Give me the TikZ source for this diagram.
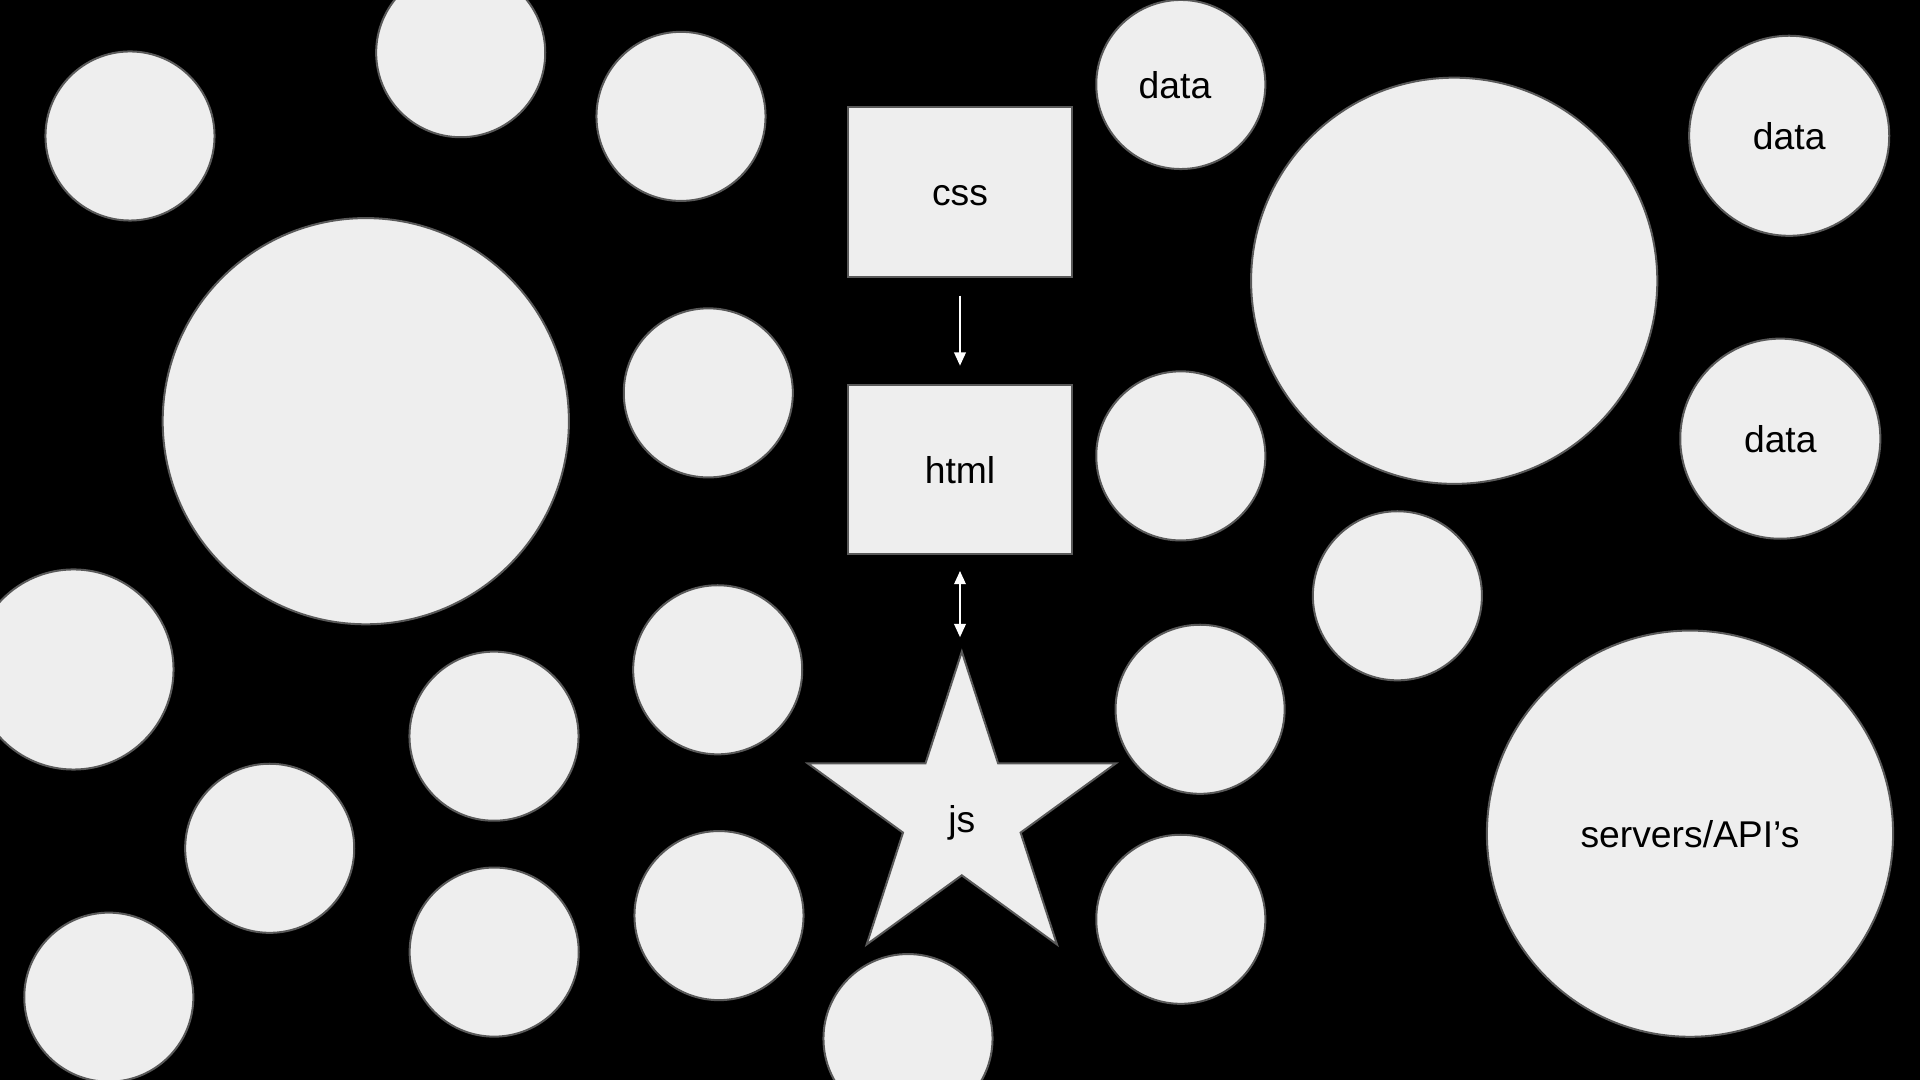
\documentclass[tikz,border=0pt]{standalone}
\usepackage{fontspec}
\setmainfont{Liberation Sans}
\usetikzlibrary{shapes.geometric,arrows.meta}
\definecolor{shapefill}{HTML}{EEEEEE}
\definecolor{shapeline}{HTML}{595959}
\tikzset{
  base/.style={draw=shapeline, fill=shapefill, line width=0.57pt, inner sep=0pt, text=black,
    font=\fontsize{10.6}{12.7}\selectfont, text height=9pt, text depth=1.04pt},
  sm/.style={base, circle, minimum size=1.69cm},
  md/.style={base, circle, minimum size=2.0cm},
  lg/.style={base, circle, minimum size=4.06cm},
  box/.style={base, rectangle, minimum width=2.24cm, minimum height=1.694cm},
  starbox/.style={base, star, star points=5, star point ratio=2.618, minimum size=3.236cm},
  lbl/.style={inner sep=0pt, text=black, font=\fontsize{10.6}{12.7}\selectfont},
  conn/.style={draw=white, line width=0.75pt, >={Triangle[width=3.2pt,length=3.8pt]}},
}
\begin{document}
\begin{tikzpicture}[x=0.01cm, y=-0.01cm]
\fill[black] (0,0) rectangle (1920,1080);
\useasboundingbox (0,0) rectangle (1920,1080);
\clip (0,0) rectangle (1920,1080);
% small circles
\node[sm] (c1)  at (130,136) {};
\node[sm] (c2)  at (460.7,52.7) {};
\node[sm] (c3)  at (681,116.4) {};
\node[sm] (d1)  at (1180.8,84.5) {};
\node[lbl, anchor=base] (d1text) at (1175,99) {data};
\node[sm] (c7)  at (708.3,392.9) {};
\node[sm] (c9)  at (1180.8,455.9) {};
\node[sm] (c13) at (1397.4,595.8) {};
\node[sm] (c15) at (494,736.2) {};
\node[sm] (c16) at (717.7,669.8) {};
\node[sm] (c17) at (1200.1,709.3) {};
\node[sm] (c18) at (269.7,848.3) {};
\node[sm] (c19) at (494.2,952.1) {};
\node[sm] (c20) at (719,915.6) {};
\node[sm] (c21) at (1180.8,919.3) {};
\node[sm] (c22) at (108.8,997.2) {};
\node[sm] (c23) at (908,1038.6) {};
% medium circles
\node[md] (c14) at (73.5,669.5) {};
\node[md] (d2)  at (1789.2,135.8) {data};
\node[md] (d3)  at (1780.3,438.7) {data};
% large circles
\node[lg] (bigl) at (365.8,421.2) {};
\node[lg] (bigr) at (1454.2,280.8) {};
\node[lg] (srv)  at (1690,833.7) {servers/API’s};
% boxes and star
\node[box] (css)  at (960,192) {css};
\node[box] (html) at (960,469.6) {html};
\node[starbox] (js) at (961.8,813.5) {};
\node[lbl, anchor=base] (jstext) at (961.8,832.7) {js};
% connectors
\draw[conn, ->, shorten <=0.18cm, shorten >=0.18cm] (css.south) -- (html.north);
\draw[conn, <->, shorten <=0.155cm, shorten >=0.11cm] (html.south) -- (html.south |- js.north);
\end{tikzpicture}
\end{document}
